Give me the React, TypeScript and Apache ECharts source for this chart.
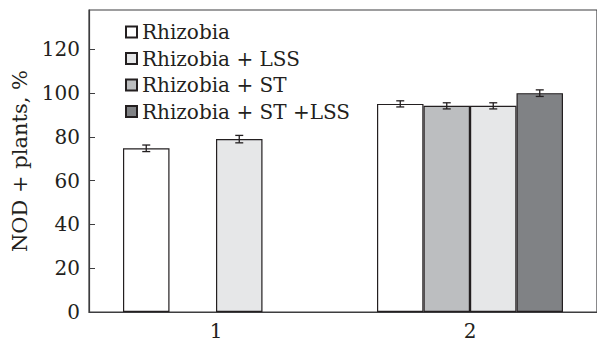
import React, { useEffect, useRef } from "react";
import * as echarts from "echarts";

const categories = ["1", "2"];
const seriesNames = ["Rhizobia", "Rhizobia + ST", "Rhizobia + LSS", "Rhizobia + ST +LSS"];
const legendOrder = ["Rhizobia", "Rhizobia + LSS", "Rhizobia + ST", "Rhizobia + ST +LSS"];
const rhizobia = [74.8, 95.1];
const rhizobiaST = [null, 94.2];
const rhizobiaLSS = [79.0, 94.2];
const rhizobiaSTLSS = [null, 100.0];
const errRhizobia = [1.5, 1.4];
const errRhizobiaST = [null, 1.4];
const errRhizobiaLSS = [1.7, 1.4];
const errRhizobiaSTLSS = [null, 1.5];
const yTicks = [0, 20, 40, 60, 80, 100, 120];

const colors = ["#ffffff", "#bcbec0", "#e6e7e8", "#808285"];
const values = [rhizobia, rhizobiaST, rhizobiaLSS, rhizobiaSTLSS];
const errors = [errRhizobia, errRhizobiaST, errRhizobiaLSS, errRhizobiaSTLSS];

const FONT = "DejaVu Serif";
const TEXT = "#231f20";
const LINE = "#3d3d3f";
const BAR_W = 46.5;

export default function App() {
  const ref = useRef<HTMLDivElement>(null);
  useEffect(() => {
    if (!ref.current) return;
    const chart = echarts.init(ref.current, undefined, { renderer: "svg" });

    const errData: any[] = [];
    values.forEach((vals, k) => {
      vals.forEach((v, i) => {
        const e = errors[k][i];
        if (v != null && e != null) errData.push([i, v, e, k]);
      });
    });

    const barSeries = seriesNames.map((name, k) => ({
      name,
      type: "bar",
      data: values[k],
      barWidth: BAR_W,
      barGap: "0%",
      itemStyle: { color: colors[k], borderColor: TEXT, borderWidth: 1.2 },
      emphasis: { disabled: true },
      z: 2,
    }));

    chart.setOption({
      animation: false,
      textStyle: { fontFamily: FONT },
      grid: {
        left: 89,
        right: -4,
        top: 10,
        bottom: 31,
        show: true,
        borderColor: LINE,
        borderWidth: 1.2,
        backgroundColor: "transparent",
      },
      legend: {
        data: legendOrder,
        orient: "vertical",
        left: 125,
        top: 22,
        padding: 0,
        itemWidth: 11,
        itemHeight: 11,
        itemGap: 6.5,
        itemTextGap: 9,
        icon: "rect",
        textStyle: { fontFamily: FONT, fontSize: 20, color: TEXT },
        selectedMode: false,
      },
      xAxis: {
        type: "category",
        data: categories,
        axisLine: { lineStyle: { color: LINE, width: 1.2 } },
        axisTick: { inside: true, length: 6, lineStyle: { color: LINE } },
        axisLabel: { fontFamily: FONT, fontSize: 20, color: TEXT, margin: 9 },
      },
      yAxis: {
        type: "value",
        min: 0,
        max: 138,
        interval: 20,
        name: "NOD + plants, %",
        nameLocation: "middle",
        nameGap: 54,
        nameTextStyle: { fontFamily: FONT, fontSize: 21, color: TEXT },
        axisLine: { show: true, lineStyle: { color: LINE, width: 1.2 } },
        axisTick: { show: true, inside: true, length: 6, lineStyle: { color: LINE } },
        axisLabel: {
          fontFamily: FONT,
          fontSize: 20,
          color: TEXT,
          margin: 9,
          showMaxLabel: false,
          formatter: (v: number) => (yTicks.includes(v) ? String(v) : ""),
        },
        splitLine: { show: false },
      },
      series: [
        ...barSeries,
        {
          type: "custom",
          name: "err",
          z: 5,
          silent: true,
          data: errData,
          renderItem: (params: any, api: any) => {
            const i = api.value(0);
            const v = api.value(1);
            const e = api.value(2);
            const k = api.value(3);
            const off = (k - 1.5) * BAR_W;
            const hi = api.coord([i, v + e]);
            const lo = api.coord([i, v - e]);
            const x = hi[0] + off;
            const cw = 4;
            const style = { stroke: TEXT, lineWidth: 1.3, fill: "none" };
            return {
              type: "group",
              children: [
                { type: "line", shape: { x1: x, y1: hi[1], x2: x, y2: lo[1] }, style },
                { type: "line", shape: { x1: x - cw, y1: hi[1], x2: x + cw, y2: hi[1] }, style },
                { type: "line", shape: { x1: x - cw, y1: lo[1], x2: x + cw, y2: lo[1] }, style },
              ],
            };
          },
        },
      ],
    });
    return () => chart.dispose();
  }, []);
  return <div ref={ref} style={{ width: 597, height: 343, position: "absolute", left: 0, top: 0 }} />;
}
